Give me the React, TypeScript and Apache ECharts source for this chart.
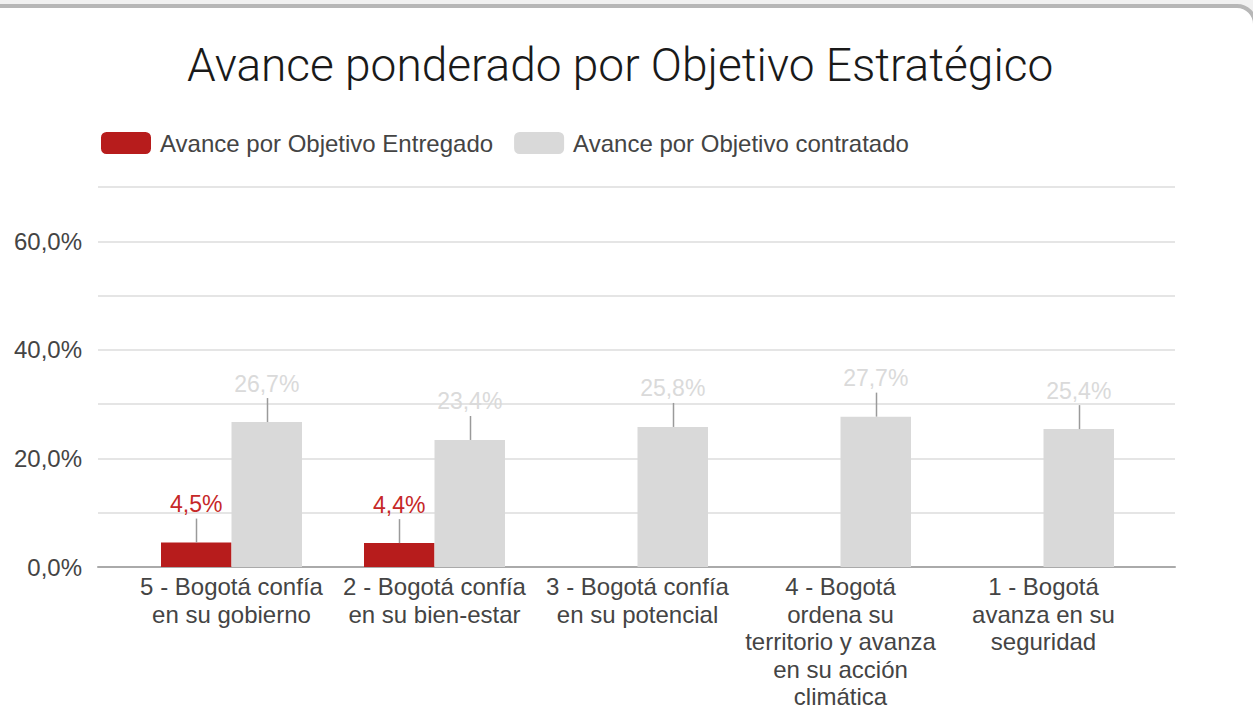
import React, { useEffect, useRef } from "react";
import * as echarts from "echarts";

const categories = [
  "5 - Bogotá confía\nen su gobierno",
  "2 - Bogotá confía\nen su bien-estar",
  "3 - Bogotá confía\nen su potencial",
  "4 - Bogotá\nordena su\nterritorio y avanza\nen su acción\nclimática",
  "1 - Bogotá\navanza en su\nseguridad",
];
const entregado: (number | null)[] = [4.5, 4.4, null, null, null];
const contratado: number[] = [26.7, 23.4, 25.8, 27.7, 25.4];
const seriesNames = ["Avance por Objetivo Entregado", "Avance por Objetivo contratado"];
const yMin = 0;
const yMax = 70;
const yInterval = 10;

const FONT = "'Liberation Sans', Arial, sans-serif";
const RED = "#b71c1c";
const GRAY = "#d9d9d9";
const BAR_W = 70.5;
const STEM = 24;

const fmt = (v: number) => v.toFixed(1).replace(".", ",") + "%";

function stemSeries(values: (number | null)[], offset: number) {
  const data = values
    .map((v, i) => (v == null ? null : [i, v]))
    .filter((d) => d !== null) as number[][];
  return {
    type: "custom",
    xAxisIndex: 1,
    yAxisIndex: 1,
    silent: true,
    z: 3,
    data,
    encode: { x: 0, y: 1 },
    renderItem: (_p: any, api: any) => {
      const pt = api.coord([api.value(0), api.value(1)]);
      const x = Math.round(pt[0] + offset) + 0.5;
      return {
        type: "line",
        shape: { x1: x, y1: pt[1], x2: x, y2: pt[1] - STEM },
        style: { stroke: "#9a9a9a", lineWidth: 1.5 },
      };
    },
  };
}

export default function App() {
  const ref = useRef<HTMLDivElement>(null);
  useEffect(() => {
    document.body.style.margin = "0";
    const chart = echarts.init(ref.current!, null, { renderer: "svg" });
    chart.setOption({
      animation: false,
      textStyle: { fontFamily: FONT },
      title: {
        text: "Avance ponderado por Objetivo Estratégico",
        left: 187,
        top: 42,
        padding: 0,
        textStyle: {
          fontFamily: "Roboto, 'Liberation Sans', sans-serif",
          fontWeight: 300,
          fontSize: 46,
          color: "#1a1a1a",
        },
      },
      legend: {
        left: 101,
        top: 131,
        padding: 0,
        itemWidth: 50,
        itemHeight: 22,
        itemGap: 21,
        icon: "roundRect",
        data: seriesNames,
        textStyle: { fontSize: 24, color: "#444", fontFamily: FONT, padding: [0, 0, 0, 4] },
      },
      grid: [
        { left: 98, top: 187, width: 1077, height: 380 },
        { left: 130, top: 187, width: 1015, height: 380 },
      ],
      xAxis: [
        {
          type: "category",
          gridIndex: 0,
          data: [""],
          axisLine: { show: true, lineStyle: { color: "#aaaaaa", width: 2 } },
          axisTick: { show: false },
          axisLabel: { show: false },
          splitLine: { show: false },
        },
        {
          type: "category",
          gridIndex: 1,
          data: categories,
          axisLine: { show: false },
          axisTick: { show: false },
          axisLabel: {
            interval: 0,
            fontSize: 24,
            lineHeight: 27.5,
            color: "#444",
            margin: 6,
            fontFamily: FONT,
          },
        },
      ],
      yAxis: [
        {
          type: "value",
          gridIndex: 0,
          min: yMin,
          max: yMax,
          interval: yInterval,
          axisLine: { show: false },
          axisTick: { show: false },
          splitLine: { lineStyle: { color: "#dcdcdc", width: 1.5 } },
          axisLabel: {
            margin: 16,
            fontSize: 24,
            color: "#444",
            fontFamily: FONT,
            formatter: (v: number) => (v % 20 === 0 ? fmt(v) : ""),
          },
        },
        {
          type: "value",
          gridIndex: 1,
          min: yMin,
          max: yMax,
          interval: yInterval,
          show: false,
          splitLine: { show: false },
        },
      ],
      series: [
        {
          name: seriesNames[0],
          type: "bar",
          xAxisIndex: 1,
          yAxisIndex: 1,
          data: entregado,
          barWidth: BAR_W,
          barGap: "0%",
          itemStyle: { color: RED },
          label: {
            show: true,
            position: "top",
            distance: 27,
            fontSize: 23,
            color: "#c62828",
            fontFamily: FONT,
            formatter: (p: any) => fmt(p.value),
          },
        },
        {
          name: seriesNames[1],
          type: "bar",
          xAxisIndex: 1,
          yAxisIndex: 1,
          data: contratado,
          barWidth: BAR_W,
          barGap: "0%",
          itemStyle: { color: GRAY },
          label: {
            show: true,
            position: "top",
            distance: 27,
            fontSize: 23,
            color: "#dadada",
            fontFamily: FONT,
            formatter: (p: any) => fmt(p.value),
          },
        },
        stemSeries(entregado, -BAR_W / 2),
        stemSeries(contratado, BAR_W / 2),
      ],
    });
    return () => chart.dispose();
  }, []);

  return (
    <div style={{ position: "relative", width: 1253, height: 720, overflow: "hidden", background: "#f1f1f1" }}>
      <div
        style={{
          position: "absolute",
          left: -20,
          top: 4,
          width: 1277,
          height: 780,
          boxSizing: "border-box",
          border: "4px solid #b7b7b7",
          borderRadius: 20,
          background: "#ffffff",
        }}
      />
      <div ref={ref} style={{ position: "absolute", left: 0, top: 0, width: 1253, height: 720 }} />
    </div>
  );
}
